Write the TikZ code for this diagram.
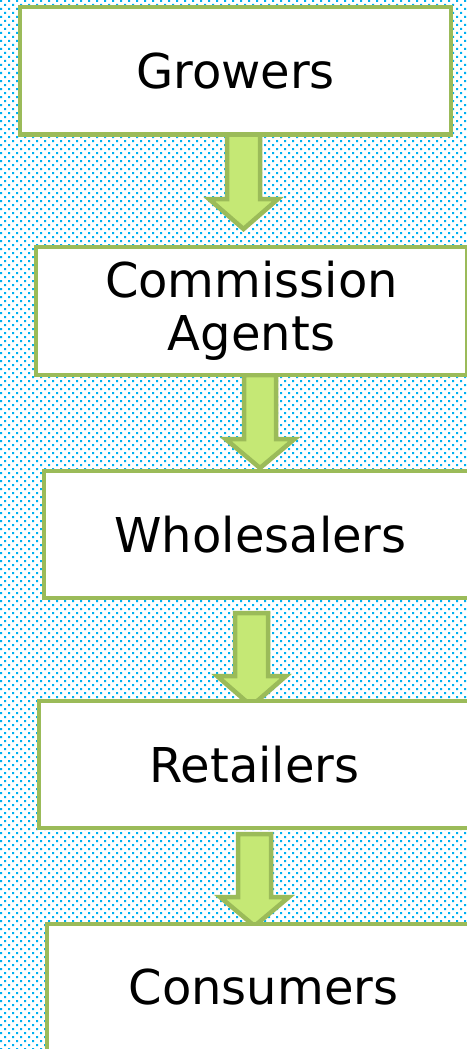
\documentclass[tikz,border=0pt]{standalone}
\usepackage{fontspec}
\setmainfont{DejaVu Sans}
\definecolor{dotblue}{HTML}{00B0F0}
\definecolor{boxgreen}{HTML}{9BBB59}
\definecolor{arrowfill}{HTML}{C5E875}
\pgfdeclarelayer{bglayer}
\pgfdeclarelayer{arrlayer}
\pgfsetlayers{bglayer,arrlayer,main}
\tikzset{
  stagebox/.style={draw=boxgreen, line width=4.5pt, fill=white, inner sep=0pt,
    align=center, font=\fontsize{48}{53}\selectfont, line join=miter},
  blockarrow/.style={draw=boxgreen, line width=4.5pt, fill=arrowfill, line join=miter}
}
\newcommand\blockarr[5]{% #1 x centre, #2 shaft top, #3 head top, #4 tip, #5 shaft half width
  \draw[blockarrow] (#1-#5,#2) -- (#1-#5,#3) -- (#1-34.5,#3) -- (#1,#4)
    -- (#1+34.5,#3) -- (#1+#5,#3) -- (#1+#5,#2) -- cycle;}
\begin{document}
\begin{tikzpicture}[x=1pt,y=-1pt]
\useasboundingbox (0,0) rectangle (466,1049);
\begin{pgfonlayer}{bglayer}
  \fill[white] (0,0) rectangle (466,1049);
  \foreach \r in {0,...,131}{
    \fill[dotblue] \foreach \c in {0,...,58}{ (\c*8,\r*8) rectangle ++(2,2) };
    \fill[dotblue] \foreach \c in {0,...,58}{ (\c*8+4,\r*8+4) rectangle ++(2,2) };
  }
\end{pgfonlayer}
\node[stagebox, minimum width=431pt, minimum height=127.5pt] (grow) at (235.5,70.75) {Growers};
\node[stagebox, minimum width=431pt, minimum height=128pt] (agent) at (251.5,311) {Commission\\Agents};
\node[stagebox, minimum width=433pt, minimum height=127pt] (whole) at (260.5,534.5) {Wholesalers};
\node[stagebox, minimum width=431pt, minimum height=127pt] (retail) at (254.5,764.5) {Retailers};
\node[stagebox, minimum width=433pt, minimum height=127pt] (cons) at (263.5,987.5) {Consumers};
\begin{pgfonlayer}{arrlayer}
  \blockarr{243.5}{134}{199}{229}{16.5}
  \blockarr{260}{375}{439}{468}{16}
  \blockarr{251.5}{613}{676}{706}{16.5}
  \blockarr{254.5}{834}{897}{926}{16.5}
\end{pgfonlayer}
\end{tikzpicture}
\end{document}
